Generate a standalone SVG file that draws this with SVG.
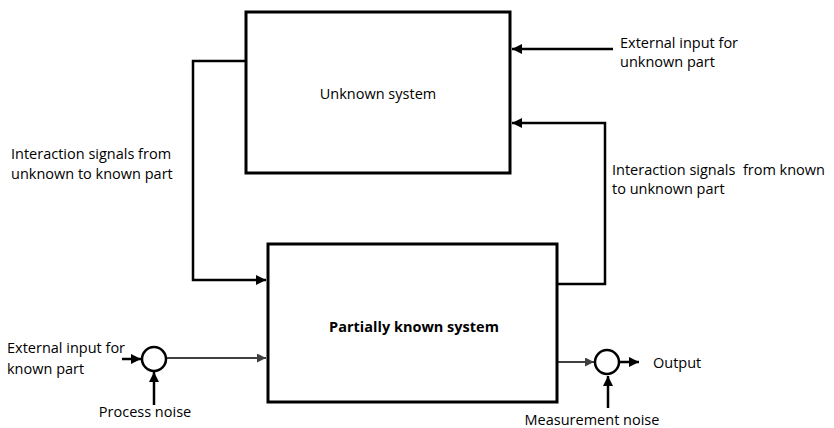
<svg xmlns="http://www.w3.org/2000/svg" width="834" height="428" viewBox="0 0 834 428">
  <style>
    .box { fill: #fff; stroke: #000; stroke-width: 3; }
    .wire { fill: none; stroke: #000; stroke-width: 2.5; }
    .thin { fill: none; stroke: #404040; stroke-width: 2; }
    .sum { fill: #fff; stroke: #000; stroke-width: 2.5; }
    text { font-family: "Open Sans", "Liberation Sans", Arial, sans-serif; font-size: 14.5px; fill: #000; }
    .bold { font-weight: bold; font-size: 14.5px; }
  </style>
  <defs>
    <marker id="arrow" viewBox="0 0 10 10" refX="10" refY="5" markerWidth="4" markerHeight="4" markerUnits="strokeWidth" orient="auto">
      <path d="M0,0 L10,5 L0,10 z" fill="#000"/>
    </marker>
    <marker id="arrowGray" viewBox="0 0 10 10" refX="10" refY="5" markerWidth="4.5" markerHeight="4.5" markerUnits="strokeWidth" orient="auto">
      <path d="M0,0 L10,5 L0,10 z" fill="#404040"/>
    </marker>
  </defs>

  <g id="connectors">
    <!-- unknown -> known interaction loop -->
    <polyline class="wire" points="246,61 193,61 193,280 266,280" marker-end="url(#arrow)"/>
    <!-- known -> unknown interaction loop -->
    <polyline class="wire" points="557,284 605,284 605,123 512,123" marker-end="url(#arrow)"/>
    <!-- external input for unknown part -->
    <line class="wire" x1="613" y1="49" x2="512" y2="49" marker-end="url(#arrow)"/>
    <!-- external input for known part into process-noise sum -->
    <line class="wire" x1="122" y1="359" x2="141" y2="359" marker-end="url(#arrow)"/>
    <!-- process noise -->
    <line class="wire" x1="154" y1="405" x2="154" y2="372" marker-end="url(#arrow)"/>
    <!-- sum -> partially known system -->
    <line class="thin" x1="166" y1="358" x2="266" y2="358" marker-end="url(#arrowGray)"/>
    <!-- partially known system -> measurement sum -->
    <line class="thin" x1="557" y1="362" x2="594" y2="362" marker-end="url(#arrowGray)"/>
    <!-- output -->
    <line class="wire" x1="619" y1="362" x2="639" y2="362" marker-end="url(#arrow)"/>
    <!-- measurement noise -->
    <line class="wire" x1="608" y1="408" x2="608" y2="376" marker-end="url(#arrow)"/>
  </g>

  <g id="unknown-system">
    <rect class="box" x="246" y="12" width="264" height="161"/>
    <text x="378" y="99" text-anchor="middle">Unknown system</text>
  </g>

  <g id="partially-known-system">
    <rect class="box" x="268" y="244" width="289" height="158"/>
    <text class="bold" x="414" y="332" text-anchor="middle">Partially known system</text>
  </g>

  <g id="process-sum">
    <circle class="sum" cx="154" cy="359" r="12"/>
  </g>

  <g id="measurement-sum">
    <circle class="sum" cx="607" cy="362" r="12"/>
  </g>

  <g id="labels">
    <text x="620" y="48">External input for</text>
    <text x="620" y="67">unknown part</text>
    <text x="11" y="159">Interaction signals from</text>
    <text x="11" y="179">unknown to known part</text>
    <text x="612" y="175" xml:space="preserve">Interaction signals  from known</text>
    <text x="612" y="194">to unknown part</text>
    <text x="7" y="353">External input for</text>
    <text x="7" y="374">known part</text>
    <text x="145" y="417" text-anchor="middle">Process noise</text>
    <text x="653" y="368">Output</text>
    <text x="592" y="425" text-anchor="middle">Measurement noise</text>
  </g>
</svg>
